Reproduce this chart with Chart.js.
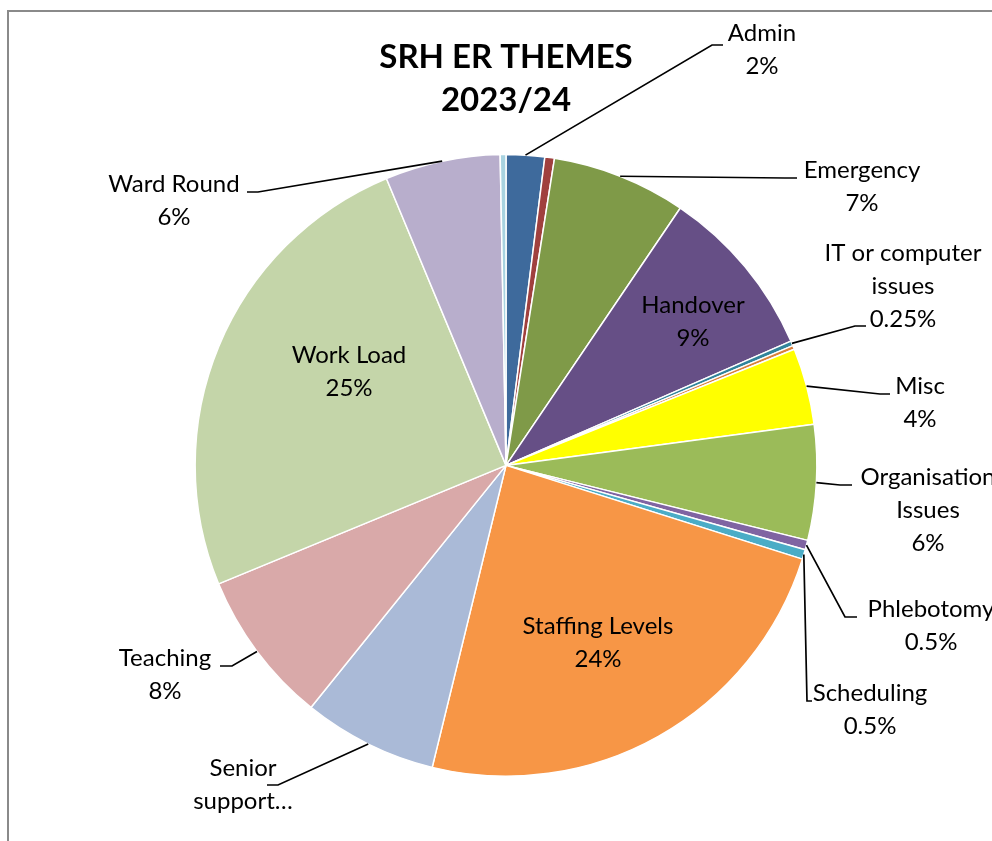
<!DOCTYPE html>
<html>
<head>
<meta charset="utf-8">
<title>SRH ER Themes 2023/24</title>
<script src="https://cdn.jsdelivr.net/npm/chart.js@4.4.1/dist/chart.umd.min.js"></script>
<style>
    body { margin: 0; background: #ffffff; overflow: hidden; }
    #frame {
        position: absolute; left: 7px; top: 10px;
        width: 1100px; height: 1000px;
        border-left: 2px solid #8a8a8a; border-top: 2px solid #8a8a8a;
    }
    #pie-canvas { position: absolute; left: 0; top: 0; }
</style>
</head>
<body>
<div id="frame"></div>
<canvas id="pie-canvas" width="992" height="841"></canvas>
<script>
// themes in the order they run clockwise from 12 o'clock
var themes = [
    'Admin', '', 'Emergency', 'Handover', 'IT or computer issues', '',
    'Misc', 'Organisation Issues', 'Phlebotomy', 'Scheduling',
    'Staffing Levels', 'Senior support…', 'Teaching', 'Work Load',
    'Ward Round', ''
];

// share of all ER reports, %
var shares = [2, 0.5, 7, 9, 0.25, 0.2, 4, 6, 0.5, 0.5, 24, 7, 8, 25, 6, 0.3];

var sliceColours = [
    '#3e6a9c', '#a0403e', '#7f9a48', '#664f86', '#31849b', '#d9803c',
    '#ffff00', '#9bbb59', '#8064a2', '#4bacc6', '#f79646', '#aabad7',
    '#d9a9a9', '#c4d5a9', '#b8aecc', '#a8d3e0'
];

// label text, split the way it wraps on the chart (null = no label)
var labelLines = [
    ['Admin'], null, ['Emergency'], ['Handover'], ['IT or computer', 'issues'], null,
    ['Misc'], ['Organisation', 'Issues'], ['Phlebotomy'], ['Scheduling'],
    ['Staffing Levels'], ['Senior', 'support…'], ['Teaching'], ['Work Load'],
    ['Ward Round'], null
];

// where each label sits: centre of first text line, plus leader elbow / end
var labelPlaces = {
    0:  { x: 762, y: 33,  leader: [712, 45, 723] },
    2:  { x: 862, y: 170, leader: [785, 178, 797] },
    3:  { x: 693, y: 305 },
    4:  { x: 903, y: 253, leader: [855, 326, 866] },
    6:  { x: 920, y: 386, leader: [880, 394, 890] },
    7:  { x: 928, y: 477, leader: [840, 485, 852] },
    8:  { x: 931, y: 609, leader: [845, 617, 857] },
    9:  { x: 870, y: 693, leader: [807, 701, 812] },
    10: { x: 598, y: 626 },
    11: { x: 243, y: 768, leader: [278, 785, 267] },
    12: { x: 165, y: 658, leader: [232, 666, 220] },
    13: { x: 349, y: 355 },
    14: { x: 174, y: 184, leader: [258, 192, 247] }
};

var labelFont = '24px Lato, "Open Sans", sans-serif';
var lineGap = 33;

var calloutPlugin = {
    id: 'callouts',
    afterDatasetsDraw: function (chart) {
        var ctx = chart.ctx;
        var arcs = chart.getDatasetMeta(0).data;

        ctx.save();
        ctx.strokeStyle = '#000000';
        ctx.lineWidth = 1.7;
        ctx.fillStyle = '#000000';
        ctx.font = labelFont;
        ctx.textAlign = 'center';
        ctx.textBaseline = 'middle';

        themes.forEach(function (theme, i) {
            var place = labelPlaces[i];
            if (!place || !labelLines[i]) {
                return;
            }
            var lines = labelLines[i].slice();
            var last = lines[lines.length - 1];
            if (last.charAt(last.length - 1) !== '…') {
                lines.push(shares[i] + '%');
            }

            if (place.leader) {
                var p = arcs[i].getProps(['x', 'y', 'startAngle', 'endAngle', 'outerRadius'], true);
                var mid = (p.startAngle + p.endAngle) / 2;
                ctx.beginPath();
                ctx.moveTo(p.x + Math.cos(mid) * p.outerRadius, p.y + Math.sin(mid) * p.outerRadius);
                ctx.lineTo(place.leader[0], place.leader[1]);
                ctx.lineTo(place.leader[2], place.leader[1]);
                ctx.stroke();
            }

            lines.forEach(function (text, k) {
                ctx.fillText(text, place.x, place.y + k * lineGap);
            });
        });
        ctx.restore();
    }
};

var pieConfig = {
    type: 'pie',
    data: {
        labels: themes,
        datasets: [{
            data: shares,
            backgroundColor: sliceColours,
            borderColor: '#ffffff',
            borderWidth: 1.5
        }]
    },
    options: {
        responsive: false,
        animation: false,
        layout: {
            padding: { left: 194, right: 174, top: 0, bottom: 64 }
        },
        plugins: {
            legend: { display: false },
            tooltip: { enabled: false },
            title: {
                display: true,
                text: ['SRH ER THEMES', '2023/24'],
                color: '#000000',
                font: { family: 'Lato, "Open Sans", sans-serif', size: 33, weight: 'bold', lineHeight: 1.33 },
                padding: { top: 35, bottom: 31 }
            }
        }
    },
    plugins: [calloutPlugin]
};

var ctx = document.getElementById('pie-canvas').getContext('2d');
window.themePie = new Chart(ctx, pieConfig);
</script>
</body>
</html>
